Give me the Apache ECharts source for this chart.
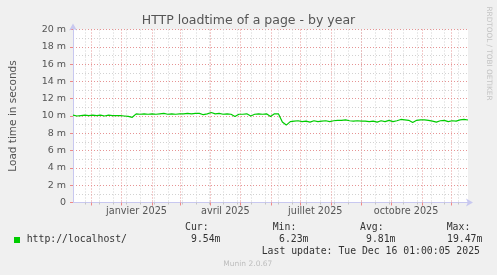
<!DOCTYPE html>
<html><head><meta charset="utf-8">
<script src="https://cdn.jsdelivr.net/npm/echarts@6/dist/echarts.min.js"></script>
<style>html,body{margin:0;padding:0;background:#f0f0f0}#c{width:497px;height:275px}</style>
</head><body><div id="c"></div>
<script>
const DAY = 86400000;
const startTime = Date.UTC(2024, 10, 12, 16);
const endTime = startTime + 400 * DAY;
const sampleStepDays = 4;
// load time in milliseconds, one reading every 4 days
const loadtimeMs = [
  10.1, 10.0, 10.05, 10.1, 10.05, 10.1, 10.05, 10.1, 10.0, 10.1,
  10.05, 10.05, 10.05, 10.0, 9.95, 9.85, 10.25, 10.2, 10.25, 10.2,
  10.25, 10.2, 10.25, 10.3, 10.2, 10.25, 10.2, 10.25, 10.25, 10.3,
  10.25, 10.3, 10.3, 10.15, 10.25, 10.4, 10.25, 10.3, 10.2, 10.25,
  10.2, 9.95, 10.2, 10.2, 10.25, 10.0, 10.2, 10.25, 10.2, 10.25,
  9.95, 10.25, 10.25, 9.3, 8.95, 9.35, 9.4, 9.45, 9.35, 9.4,
  9.3, 9.45, 9.35, 9.4, 9.45, 9.35, 9.45, 9.5, 9.5, 9.55,
  9.45, 9.4, 9.45, 9.4, 9.4, 9.35, 9.4, 9.3, 9.45, 9.35,
  9.5, 9.35, 9.45, 9.6, 9.55, 9.5, 9.25, 9.5, 9.55, 9.55,
  9.5, 9.4, 9.3, 9.45, 9.5, 9.35, 9.45, 9.4, 9.55, 9.6,
  9.54
];
const monthStarts = ['2024-12-01','2025-01-01','2025-02-01','2025-03-01','2025-04-01','2025-05-01',
  '2025-06-01','2025-07-01','2025-08-01','2025-09-01','2025-10-01','2025-11-01','2025-12-01'];
const minorGridDates = ['2024-11-25','2024-12-09','2024-12-23','2025-01-06','2025-01-20','2025-02-03',
  '2025-02-17','2025-03-03','2025-03-17','2025-03-31','2025-04-14','2025-04-28','2025-05-12','2025-05-26',
  '2025-06-09','2025-06-23','2025-07-07','2025-07-21','2025-08-04','2025-08-18','2025-09-01','2025-09-15',
  '2025-09-29','2025-10-13','2025-10-27','2025-11-10','2025-11-24','2025-12-08'];
const xLabelDates = ['2025-01-16','2025-04-16','2025-07-16','2025-10-16'];
const xLabels = ['janvier 2025','avril 2025','juillet 2025','octobre 2025'];
const legendName = 'http://localhost/';
const statNames = ['Cur:','Min:','Avg:','Max:'];
const statValues = ['9.54m','6.23m','9.81m','19.47m'];
const lastUpdate = 'Last update: Tue Dec 16 01:00:05 2025';

const t = s => new Date(s).getTime();
const monthTimes = monthStarts.map(t);
const minorTimes = minorGridDates.map(t);
const labelTimes = xLabelDates.map(t);
const seriesData = loadtimeMs.map((v, i) => [startTime + i * sampleStepDays * DAY, v]);

const FONT = 'DejaVu Sans';
const MONO = 'DejaVu Sans Mono';
const axisCol = '#c8c8f0';
const redGrid = '#e69494';
const grayGrid = '#d2d2d2';

const statX = [[185, 191], [272.7, 279], [360, 366], [446.7, 447]];
const graphics = [
  {type:'rect', shape:{x:14, y:237, width:6, height:6}, style:{fill:'#00cc00'}},
  {type:'text', x:26.7, y:239.5, style:{text:legendName, font:'9.8px "'+MONO+'"', fill:'#333', verticalAlign:'middle'}},
  {type:'text', x:261.7, y:251, style:{text:lastUpdate, font:'9.8px "'+MONO+'"', fill:'#333', verticalAlign:'middle'}},
  {type:'text', x:247.8, y:264.3, style:{text:'Munin 2.0.67', font:'7.5px "'+FONT+'"', fill:'#bdbdbd', align:'center', verticalAlign:'middle'}},
  {type:'text', x:488.5, y:53.5, rotation:-Math.PI/2, style:{text:'RRDTOOL / TOBI OETIKER', font:'7.3px "'+FONT+'"', fill:'#c4c4c4', align:'center', verticalAlign:'middle'}}
];
statNames.forEach((n, i) => {
  graphics.push({type:'text', x:statX[i][0], y:227.7, style:{text:n, font:'9.8px "'+MONO+'"', fill:'#333', verticalAlign:'middle'}});
  graphics.push({type:'text', x:statX[i][1], y:239.5, style:{text:statValues[i], font:'9.8px "'+MONO+'"', fill:'#333', verticalAlign:'middle'}});
});

const chart = echarts.init(document.getElementById('c'), null, {renderer:'canvas'});
chart.setOption({
  backgroundColor:'#f0f0f0',
  animation:false,
  title:{text:'HTTP loadtime of a page - by year', left:'center', top:9,
    textStyle:{fontFamily:FONT, fontSize:12.5, fontWeight:'normal', color:'#555'}},
  grid:{left:67, right:29, top:29.5, bottom:72.5, show:true, backgroundColor:'#fff', borderWidth:0},
  xAxis:[
    {type:'value', min:startTime, max:endTime, position:'bottom',
      axisLine:{show:false}, axisLabel:{show:false},
      axisTick:{show:true, customValues:minorTimes, length:2, lineStyle:{color:'#c4c4c4'}},
      splitLine:{show:true, lineStyle:{color:grayGrid, width:1, type:[1,2]}}},
    {type:'value', min:startTime, max:endTime, position:'bottom',
      axisLine:{show:true, lineStyle:{color:axisCol}, symbol:['none','arrow'], symbolSize:[6,7], symbolOffset:[0,5]},
      axisTick:{show:true, customValues:monthTimes, length:3, lineStyle:{color:'#e88'}},
      axisLabel:{show:true, customValues:labelTimes, margin:4, fontFamily:FONT, fontSize:9.7, color:'#555',
        formatter:(v) => { const k = labelTimes.indexOf(+v); return k >= 0 ? xLabels[k] : ''; }},
      splitLine:{show:true, lineStyle:{color:redGrid, width:1, type:[1,2]}}}
  ],
  yAxis:{type:'value', min:0, max:20, interval:2,
    name:'Load time in seconds', nameLocation:'middle', nameGap:54,
    nameTextStyle:{fontFamily:FONT, fontSize:10.5, color:'#555'},
    axisLine:{show:true, lineStyle:{color:axisCol}, symbol:['none','arrow'], symbolSize:[6,7], symbolOffset:[0,6]},
    axisTick:{show:true, length:3, lineStyle:{color:'#e88'}},
    axisLabel:{fontFamily:FONT, fontSize:9.5, color:'#555', margin:7,
      formatter:(v) => v === 0 ? '0' : v + ' m'},
    splitLine:{show:true, lineStyle:{color:redGrid, width:1, type:[1,2]}},
    minorTick:{show:false, splitNumber:2},
    minorSplitLine:{show:true, lineStyle:{color:grayGrid, width:1, type:[1,2]}}},
  series:[{type:'line', name:legendName, xAxisIndex:1, data:seriesData, showSymbol:false,
    lineStyle:{color:'#00cc00', width:1.2}, itemStyle:{color:'#00cc00'}, z:5}],
  graphic:graphics
});
</script></body></html>
